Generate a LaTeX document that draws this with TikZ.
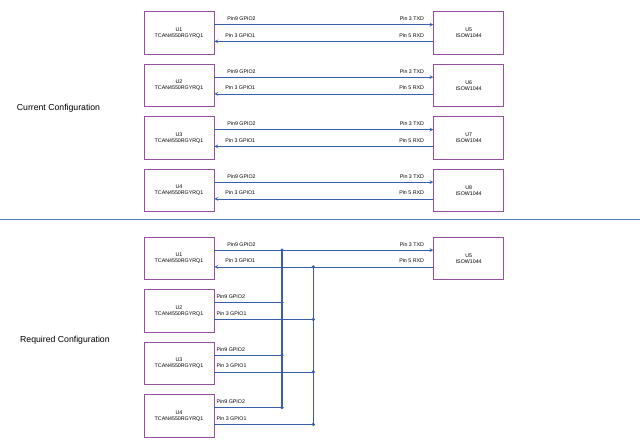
\documentclass[tikz,border=0pt]{standalone}
\usepackage{fontspec}
\setmainfont{Liberation Sans}
\usetikzlibrary{arrows, positioning}
\definecolor{chipline}{RGB}{150,80,160}
\definecolor{wireblue}{RGB}{55,95,170}
\definecolor{rulecol}{RGB}{85,125,180}

\begin{document}
\begin{tikzpicture}[x=1pt, y=1pt, node distance=9.3pt]
\useasboundingbox (0,0) rectangle (640,-444);
% Define styles
\tikzstyle{chip} = [rectangle, draw=chipline, line width=0.7pt, minimum width=70pt, minimum height=42.5pt, inner sep=0pt, align=center, font=\fontsize{5.3}{6.2}\selectfont]
\tikzstyle{pinlabel} = [inner sep=1pt, yshift=2.6pt, text=black, font=\fontsize{5.3}{6.2}\selectfont]
\tikzstyle{arrow} = [wireblue, line width=0.7pt, ->, >=stealth]
\tikzstyle{wire} = [wireblue, line width=0.7pt]
\tikzstyle{bus} = [wireblue, line width=1.1pt]
\tikzstyle{heading} = [anchor=west, inner sep=0pt, font=\fontsize{8.7}{10}\selectfont]

% Current configuration
\node (current) [heading] at (16.7,-108.3) {Current Configuration};
\node (cur1) [chip] at (179,-33) {U1\\TCAN4550RGYRQ1};
\node (cur2) [chip, below=of cur1] {U2\\TCAN4550RGYRQ1};
\node (cur3) [chip, below=of cur2] {U3\\TCAN4550RGYRQ1};
\node (cur4) [chip, below=of cur3] {U4\\TCAN4550RGYRQ1};
\node (iso1) [chip, right=219pt of cur1] {U5\\ISOW1044};
\node (iso2) [chip, right=219pt of cur2] {U6\\ISOW1044};
\node (iso3) [chip, right=219pt of cur3] {U7\\ISOW1044};
\node (iso4) [chip, right=219pt of cur4] {U8\\ISOW1044};

\draw [arrow] ([yshift=8.4pt]cur1.east) -- node[pinlabel, anchor=south west, pos=0, xshift=11.7pt] {Pin9 GPIO2} node[pinlabel, anchor=south east, pos=1, xshift=-8pt] {Pin 3 TXD} ([yshift=8.4pt]iso1.west);
\draw [arrow] ([yshift=-8.4pt]iso1.west) -- node[pinlabel, anchor=south east, pos=0, xshift=-8pt] {Pin 5 RXD} node[pinlabel, anchor=south west, pos=1, xshift=9.7pt] {Pin 3 GPIO1} ([yshift=-8.4pt]cur1.east);
\draw [arrow] ([yshift=8.4pt]cur2.east) -- node[pinlabel, anchor=south west, pos=0, xshift=11.7pt] {Pin9 GPIO2} node[pinlabel, anchor=south east, pos=1, xshift=-8pt] {Pin 3 TXD} ([yshift=8.4pt]iso2.west);
\draw [arrow] ([yshift=-8.4pt]iso2.west) -- node[pinlabel, anchor=south east, pos=0, xshift=-8pt] {Pin 5 RXD} node[pinlabel, anchor=south west, pos=1, xshift=9.7pt] {Pin 3 GPIO1} ([yshift=-8.4pt]cur2.east);
\draw [arrow] ([yshift=8.4pt]cur3.east) -- node[pinlabel, anchor=south west, pos=0, xshift=11.7pt] {Pin9 GPIO2} node[pinlabel, anchor=south east, pos=1, xshift=-8pt] {Pin 3 TXD} ([yshift=8.4pt]iso3.west);
\draw [arrow] ([yshift=-8.4pt]iso3.west) -- node[pinlabel, anchor=south east, pos=0, xshift=-8pt] {Pin 5 RXD} node[pinlabel, anchor=south west, pos=1, xshift=9.7pt] {Pin 3 GPIO1} ([yshift=-8.4pt]cur3.east);
\draw [arrow] ([yshift=8.4pt]cur4.east) -- node[pinlabel, anchor=south west, pos=0, xshift=11.7pt] {Pin9 GPIO2} node[pinlabel, anchor=south east, pos=1, xshift=-8pt] {Pin 3 TXD} ([yshift=8.4pt]iso4.west);
\draw [arrow] ([yshift=-8.4pt]iso4.west) -- node[pinlabel, anchor=south east, pos=0, xshift=-8pt] {Pin 5 RXD} node[pinlabel, anchor=south west, pos=1, xshift=9.7pt] {Pin 3 GPIO1} ([yshift=-8.4pt]cur4.east);

% Divider
\draw [rulecol, line width=1.4pt] (0,-219.3) -- (640,-219.3);

% Required configuration
\node (required) [heading] at (20,-340.7) {Required Configuration};
\node (req1) [chip] at (179,-258.5) {U1\\TCAN4550RGYRQ1};
\node (req2) [chip, below=of req1] {U2\\TCAN4550RGYRQ1};
\node (req3) [chip, below=of req2] {U3\\TCAN4550RGYRQ1};
\node (req4) [chip, below=of req3] {U4\\TCAN4550RGYRQ1};
\node (reqiso) [chip, right=219pt of req1] {U5\\ISOW1044};

\coordinate (txbus) at (282,0);
\coordinate (rxbus) at (313.3,0);
\coordinate (req1tx) at ([yshift=8.4pt]req1.east);
\coordinate (req1rx) at ([yshift=-8.4pt]req1.east);
\coordinate (req2tx) at ([yshift=8.4pt]req2.east);
\coordinate (req2rx) at ([yshift=-8.4pt]req2.east);
\coordinate (req3tx) at ([yshift=8.4pt]req3.east);
\coordinate (req3rx) at ([yshift=-8.4pt]req3.east);
\coordinate (req4tx) at ([yshift=8.4pt]req4.east);
\coordinate (req4rx) at ([yshift=-8.4pt]req4.east);

\draw [arrow] (req1tx) -- node[pinlabel, anchor=south west, pos=0, xshift=11.7pt] {Pin9 GPIO2} node[pinlabel, anchor=south east, pos=1, xshift=-8pt] {Pin 3 TXD} ([yshift=8.4pt]reqiso.west);
\draw [arrow] ([yshift=-8.4pt]reqiso.west) -- node[pinlabel, anchor=south east, pos=0, xshift=-8pt] {Pin 5 RXD} node[pinlabel, anchor=south west, pos=1, xshift=9.7pt] {Pin 3 GPIO1} (req1rx);
\draw [wire] (req2tx) -- node[pinlabel, anchor=south west, pos=0, xshift=1pt] {Pin9 GPIO2} (req2tx -| txbus);
\draw [wire] (req2rx) -- node[pinlabel, anchor=south west, pos=0, xshift=1pt] {Pin 3 GPIO1} (req2rx -| rxbus);
\draw [wire] (req3tx) -- node[pinlabel, anchor=south west, pos=0, xshift=1pt] {Pin9 GPIO2} (req3tx -| txbus);
\draw [wire] (req3rx) -- node[pinlabel, anchor=south west, pos=0, xshift=1pt] {Pin 3 GPIO1} (req3rx -| rxbus);
\draw [wire] (req4tx) -- node[pinlabel, anchor=south west, pos=0, xshift=1pt] {Pin9 GPIO2} (req4tx -| txbus);
\draw [wire] (req4rx) -- node[pinlabel, anchor=south west, pos=0, xshift=1pt] {Pin 3 GPIO1} (req4rx -| rxbus);

% Shared lines
\draw [bus] (req1tx -| txbus) -- (req4tx -| txbus);
\draw [bus] (req1rx -| rxbus) -- (req4rx -| rxbus);
\fill [wireblue] (req1tx -| txbus) circle (1.8pt);
\fill [wireblue] (req2tx -| txbus) circle (1.8pt);
\fill [wireblue] (req3tx -| txbus) circle (1.8pt);
\fill [wireblue] (req4tx -| txbus) circle (1.8pt);
\fill [wireblue] (req1rx -| rxbus) circle (1.8pt);
\fill [wireblue] (req2rx -| rxbus) circle (1.8pt);
\fill [wireblue] (req3rx -| rxbus) circle (1.8pt);
\fill [wireblue] (req4rx -| rxbus) circle (1.8pt);
\end{tikzpicture}
\end{document}
